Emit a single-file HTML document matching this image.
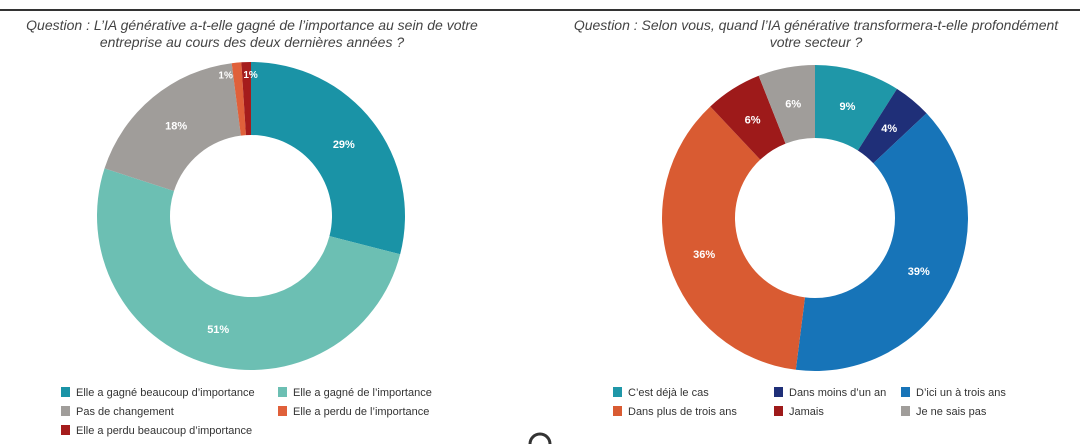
<!DOCTYPE html>
<html><head><meta charset="utf-8"><style>
body{margin:0;width:1080px;height:444px;background:#fff;overflow:hidden;font-family:"Liberation Sans",sans-serif}
svg{display:block}
</style></head><body>
<svg id="s" width="1080" height="444">
<line x1="0" y1="10" x2="1080" y2="10" stroke="#333" stroke-width="2"/>
<g font-style="italic" font-size="14" fill="#444" text-anchor="middle">
<text x="252" y="30">Question : L’IA générative a-t-elle gagné de l’importance au sein de votre</text>
<text x="252" y="47">entreprise au cours des deux dernières années ?</text>
<text x="816" y="30">Question : Selon vous, quand l’IA générative transformera-t-elle profondément</text>
<text x="816" y="47">votre secteur ?</text>
</g>
<g id="d1"></g>
<g id="d2"></g>
<g id="lg" font-size="11" fill="#333"></g>
<path d="M530 444 A10 10 0 0 1 550 444" fill="none" stroke="#333" stroke-width="3"/>
</svg>
<script>
const leftCats=["Elle a gagné beaucoup d’importance","Elle a gagné de l’importance","Pas de changement","Elle a perdu de l’importance","Elle a perdu beaucoup d’importance"];
const leftVals=[29,51,18,1,1];
const leftColors=["#1A93A6","#6CBFB3","#A09D9A","#E0603A","#A51C1C"];
const rightCats=["C’est déjà le cas","Dans moins d’un an","D’ici un à trois ans","Dans plus de trois ans","Jamais","Je ne sais pas"];
const rightVals=[9,4,39,36,6,6];
const rightColors=["#1F97A8","#1F2F78","#1774B8","#D95B32","#9E1A1A","#A09D9A"];
const NS="http://www.w3.org/2000/svg";
function mk(t,a,p){const e=document.createElementNS(NS,t);for(const k in a)e.setAttribute(k,a[k]);p.appendChild(e);return e;}
function donut(g,cx,cy,R,r,vals,cols,name){
  const tot=vals.reduce((a,b)=>a+b,0);let a0=0;
  vals.forEach((v,i)=>{
    const a1=a0+v/tot*2*Math.PI;
    const P=(rad,a)=>[cx+rad*Math.sin(a),cy-rad*Math.cos(a)];
    const lg=(a1-a0)>Math.PI?1:0;
    const [x0,y0]=P(R,a0),[x1,y1]=P(R,a1),[x2,y2]=P(r,a1),[x3,y3]=P(r,a0);
    const p=mk("path",{d:`M${x0} ${y0}A${R} ${R} 0 ${lg} 1 ${x1} ${y1}L${x2} ${y2}A${r} ${r} 0 ${lg} 0 ${x3} ${y3}Z`,fill:cols[i]},g);
    
    
    const am=(a0+a1)/2;const small=v<3;const lr=small?R-12:(R+r)/2;
    let [lx,ly]=P(lr,am);
    if(small){lx+=(i===vals.length-1?4:-12);}
    const t=mk("text",{x:lx,y:ly+4,"text-anchor":"middle","font-size":small?"10":"11","font-weight":"bold",fill:"#fff"},g);
    t.textContent=v+"%";
    
    
    a0=a1;
  });
}
donut(document.getElementById("d1"),251,216,154,81,leftVals,leftColors,"left");
donut(document.getElementById("d2"),815,218,153,80,rightVals,rightColors,"right");
const lg=document.getElementById("lg");
function legend(cats,cols,pos,name){
  cats.forEach((c,i)=>{
    const [x,y]=pos[i];
    const r=mk("rect",{x:x,y:y-5,width:9,height:10,fill:cols[i]},lg);
    
    
    const t=mk("text",{x:x+15,y:y+4},lg);t.textContent=c;
    
    
  });
}
legend(leftCats,leftColors,[[61,392],[278,392],[61,411],[278,411],[61,430]],"left");
legend(rightCats,rightColors,[[613,392],[774,392],[901,392],[613,411],[774,411],[901,411]],"right");
</script>
</body></html>
